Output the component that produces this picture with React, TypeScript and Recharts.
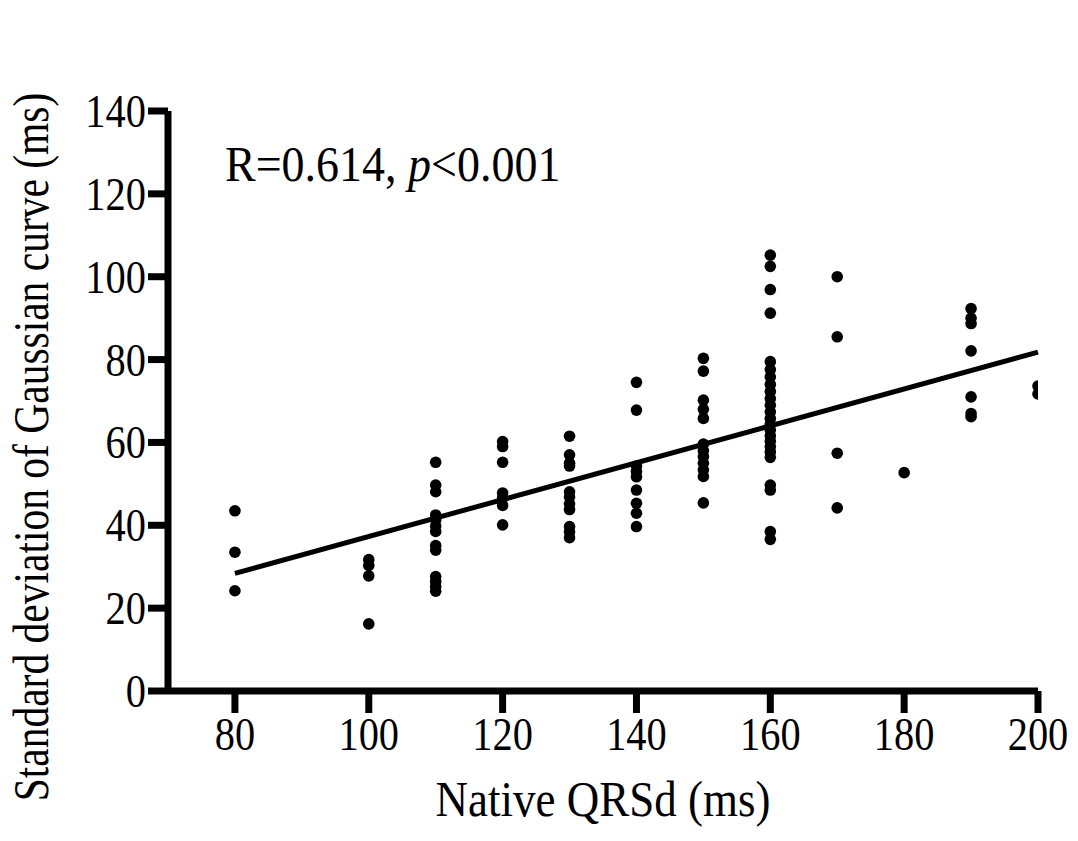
import React from "react";
import { ScatterChart, Scatter, XAxis, YAxis, ReferenceLine } from "recharts";

// SD of Gaussian curve (ms) for each native QRSd group
const sd80 = [43.5, 33.5, 24.2];
const sd100 = [31.7, 30.3, 27.8, 16.2];
const sd110 = [55.2, 49.7, 48.1, 42.5, 41.3, 39.8, 38.5, 35.1, 34.0, 27.6, 26.4, 25.2, 24.1];
const sd120 = [60.2, 59.0, 55.2, 47.8, 46.6, 44.8, 40.1];
const sd130 = [61.5, 57.0, 55.0, 54.3, 48.1, 46.8, 45.2, 43.8, 39.7, 38.4, 37.0];
const sd140 = [74.5, 67.8, 54.3, 53.0, 51.7, 48.5, 45.3, 42.9, 39.7];
const sd150 = [80.3, 77.2, 70.2, 68.0, 65.8, 59.6, 58.0, 56.6, 55.0, 53.4, 51.8, 45.4];
const sd160 = [
  105.2, 102.5, 96.9, 91.2, 79.5, 77.6, 75.8, 74.0, 72.3, 70.6, 69.0, 67.4, 65.8, 64.4, 63.0,
  61.6, 60.3, 59.0, 57.7, 56.4, 49.7, 48.5, 38.5, 36.6,
];
const sd170 = [100.0, 85.5, 57.4, 44.2];
const sd180 = [52.7];
const sd190 = [92.3, 90.0, 88.7, 82.1, 71.0, 67.0, 66.2];
const sd200 = [73.6, 71.7];

const groups: [number, number[]][] = [
  [80, sd80], [100, sd100], [110, sd110], [120, sd120], [130, sd130], [140, sd140],
  [150, sd150], [160, sd160], [170, sd170], [180, sd180], [190, sd190], [200, sd200],
];

// linear fit end points
const fitX = [80, 200];
const fitY = [28.4, 81.8];

const xTicks = [80, 100, 120, 140, 160, 180, 200];
const yTicks = [0, 20, 40, 60, 80, 100, 120, 140];

const points = groups.flatMap(([q, vals]) => vals.map((v) => ({ qrsd: q, sd: v })));

const FONT = "'Times New Roman', 'Liberation Serif', serif";
const W = 1062;
const H = 825;

const Dot = (p: any) => <circle cx={p.cx} cy={p.cy} r={5.8} fill="#000" />;

const YTick = (p: any) => (
  <text
    transform={`translate(${p.x},${p.y + 16}) scale(0.86,1)`}
    textAnchor="end"
    fontFamily={FONT}
    fontSize={47}
    fill="#000"
  >
    {p.payload.value}
  </text>
);

const XTick = (p: any) => (
  <text
    transform={`translate(${p.x},${p.y + 35}) scale(0.86,1)`}
    textAnchor="middle"
    fontFamily={FONT}
    fontSize={47}
    fill="#000"
  >
    {p.payload.value}
  </text>
);

export default function App() {
  return (
    <div style={{ position: "relative", width: W, height: H }}>
      <ScatterChart width={W} height={H} margin={{ top: 103, right: 32, bottom: 62, left: 60 }}>
        <XAxis
          type="number"
          dataKey="qrsd"
          domain={[70, 200]}
          ticks={xTicks}
          allowDataOverflow
          height={80}
          tickSize={22}
          stroke="#000"
          axisLine={{ stroke: "#000", strokeWidth: 7 }}
          tickLine={{ stroke: "#000", strokeWidth: 7 }}
          tick={<XTick />}
        />
        <YAxis
          type="number"
          dataKey="sd"
          domain={[0, 140]}
          ticks={yTicks}
          width={100}
          tickSize={20}
          stroke="#000"
          axisLine={{ stroke: "#000", strokeWidth: 7 }}
          tickLine={{ stroke: "#000", strokeWidth: 7 }}
          tick={<YTick />}
        />
        <Scatter data={points} fill="#000" shape={<Dot />} isAnimationActive={false} />
        <ReferenceLine
          segment={[
            { x: fitX[0], y: fitY[0] },
            { x: fitX[1], y: fitY[1] },
          ]}
          stroke="#000"
          strokeWidth={5}
          ifOverflow="visible"
        />
      </ScatterChart>
      <svg
        width={W}
        height={H}
        style={{ position: "absolute", left: 0, top: 0, pointerEvents: "none" }}
      >
        <text transform="translate(217,173) scale(0.92,1)" fontFamily={FONT} fontSize={50} fill="#000">
          R=0.614, <tspan fontStyle="italic">p</tspan>&lt;0.001
        </text>
        <text
          transform="translate(595,808) scale(0.9,1)"
          textAnchor="middle"
          fontFamily={FONT}
          fontSize={50}
          fill="#000"
        >
          Native QRSd (ms)
        </text>
        <text
          transform="translate(40,439) rotate(-90) scale(1,1.2)"
          textAnchor="middle"
          fontFamily={FONT}
          fontSize={41.5}
          fill="#000"
        >
          Standard deviation of Gaussian curve (ms)
        </text>
      </svg>
    </div>
  );
}
